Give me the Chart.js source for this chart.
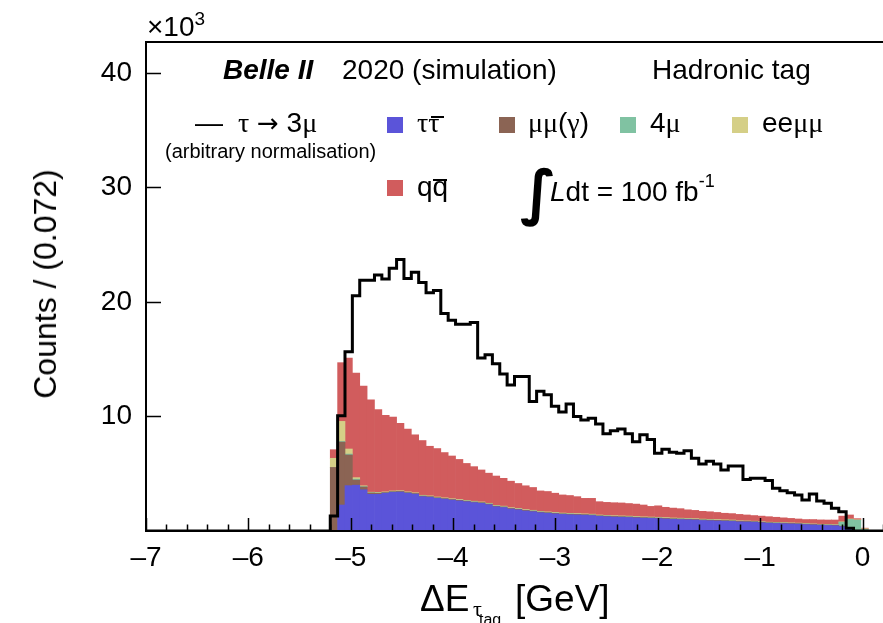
<!DOCTYPE html>
<html>
<head>
<meta charset="utf-8">
<script src="https://cdn.jsdelivr.net/npm/chart.js@4.4.1/dist/chart.umd.min.js"></script>
<style>
  html, body { margin: 0; padding: 0; background: #fff; overflow: hidden; }
  #wrap { position: relative; width: 883px; height: 623px; font-family: "Liberation Sans", Arial, Helvetica, sans-serif; color: #000; }
  #wrap canvas { position: absolute; left: 0; top: 0; }
  .t { position: absolute; white-space: nowrap; line-height: 1; font-size: 28px; }
  .g { font-family: "Liberation Serif", "DejaVu Serif", serif; }
  .bar { position: absolute; height: 2px; background: #000; }
  .sq { position: absolute; width: 16px; height: 16px; }
</style>
</head>
<body>
<div id="wrap">
  <canvas id="hist" width="883" height="623"></canvas>

  <div class="t" style="left:147px; top:13px;">×10<span style="font-size:19px; position:relative; top:-11px;">3</span></div>

  <div class="t" style="left:223px; top:56px; font-weight:bold; font-style:italic;">Belle II</div>
  <div class="t" style="left:342px; top:56px;">2020 (simulation)</div>
  <div class="t" style="left:652px; top:56px;">Hadronic tag</div>

  <div class="t" style="left:195px; top:109px;">—</div>
  <div class="t" style="left:238px; top:109px;"><span class="g">τ</span> <span style="font-family:'DejaVu Sans', sans-serif; font-size:26px;">→</span> 3<span class="g">μ</span></div>
  <div class="t" style="left:165px; top:141px; font-size:20px;">(arbitrary normalisation)</div>

  <div class="sq" style="left:387px; top:117px; background:#5b54d9;"></div>
  <div class="t g" style="left:417px; top:109px;">ττ</div>
  <div class="bar" style="left:431px; top:116px; width:13px;"></div>
  <div class="sq" style="left:499px; top:117px; background:#8b6454;"></div>
  <div class="t" style="left:528px; top:109px;"><span class="g">μμ</span>(<span class="g">γ</span>)</div>
  <div class="sq" style="left:620px; top:117px; background:#80c2a2;"></div>
  <div class="t" style="left:650px; top:109px;">4<span class="g">μ</span></div>
  <div class="sq" style="left:732px; top:117px; background:#d5cf87;"></div>
  <div class="t" style="left:762px; top:109px;">ee<span class="g">μμ</span></div>
  <div class="sq" style="left:387px; top:180px; background:#d15c5d;"></div>
  <div class="t" style="left:417px; top:173px;">qq</div>
  <div class="bar" style="left:433px; top:179px; width:14px;"></div>

  <div class="t" style="left:520px; top:162px; font-family:'DejaVu Sans', sans-serif; font-weight:bold; font-size:60px;">∫</div>
  <div class="t" style="left:550px; top:178px;"><i>L</i>dt = 100 fb<span style="font-size:18px; position:relative; top:-14px;">-1</span></div>

  <div class="t" style="left:420px; top:580px; font-size:37px;">ΔE</div>
  <div class="t g" style="left:473px; top:598px; font-size:22px;">τ</div>
  <div class="t" style="left:479px; top:612px; font-size:16px;">tag</div>
  <div class="t" style="left:515px; top:580px; font-size:37px;">[GeV]</div>

  <div class="t" style="left:45px; top:284px; font-size:32px; transform:translate(-50%,-50%) rotate(-90deg);">Counts / (0.072)</div>
</div>

<script>
// binning: 100 bins of 0.072 GeV from -7 to 0.2
const binLow = -7;
const binWidth = 0.072;
const binCount = 100;

// stacked backgrounds, counts in units of 10^3 per bin
const tautau = [
  0, 0, 0, 0, 0, 0, 0, 0, 0, 0, 0, 0, 0, 0, 0, 0, 0, 0, 0, 0, 0, 0, 0, 0, 0,
  0.05, 2.27, 3.96, 4.0, 3.6, 3.2, 3.2, 3.3, 3.38, 3.4, 3.3, 3.22, 3.0, 2.95, 2.85,
  2.78, 2.7, 2.63, 2.56, 2.48, 2.42, 2.3, 2.12, 2.05, 1.92, 1.85, 1.75, 1.69, 1.6, 1.55,
  1.5, 1.45, 1.42, 1.4, 1.38, 1.35, 1.28, 1.25, 1.22, 1.2, 1.18, 1.15, 1.12, 1.1, 1.08,
  1.05, 1.02, 1.0, 0.98, 0.96, 0.92, 0.9, 0.88, 0.86, 0.84, 0.8, 0.79, 0.77, 0.72, 0.68,
  0.66, 0.64, 0.62, 0.6, 0.56, 0.53, 0.5, 0.48, 0.46, 0.38, 0.2, 0.02, 0, 0, 0
];
const mumuGamma = [
  0, 0, 0, 0, 0, 0, 0, 0, 0, 0, 0, 0, 0, 0, 0, 0, 0, 0, 0, 0, 0, 0, 0, 0, 0,
  5.5, 5.5, 2.68, 0.45, 0.25, 0.12, 0.1, 0.05, 0.05, 0.05, 0.05, 0.05, 0.05, 0.05, 0.05,
  0.05, 0.05, 0.05, 0.05, 0.05, 0.05, 0.05, 0.05, 0.05, 0.05, 0.05, 0.05, 0.05, 0.05, 0.05,
  0.05, 0.05, 0.05, 0.05, 0.05, 0.05, 0.05, 0.05, 0.05, 0.05, 0.05, 0.05, 0.05, 0.05, 0.05,
  0.05, 0.05, 0.05, 0.05, 0.05, 0.05, 0.05, 0.05, 0.05, 0.05, 0.04, 0.04, 0.04, 0.04, 0.04,
  0.04, 0.04, 0.04, 0.04, 0.04, 0.04, 0.04, 0.04, 0.04, 0.04, 0.02, 0.03, 0.05, 0.03, 0
];
const fourMu = [
  0, 0, 0, 0, 0, 0, 0, 0, 0, 0, 0, 0, 0, 0, 0, 0, 0, 0, 0, 0, 0, 0, 0, 0, 0,
  0, 0.05, 0.08, 0.08, 0.03, 0.02, 0.02, 0.02, 0.02, 0.02, 0.02, 0.02, 0.02, 0.02, 0.02,
  0.02, 0.02, 0.02, 0.02, 0.02, 0.02, 0.02, 0.02, 0.02, 0.02, 0.02, 0.02, 0.02, 0.02, 0.02,
  0.02, 0.02, 0.02, 0.02, 0.02, 0.02, 0.02, 0.02, 0.02, 0.02, 0.02, 0.02, 0.02, 0.02, 0.02,
  0.02, 0.02, 0.02, 0.02, 0.02, 0.02, 0.02, 0.02, 0.02, 0.02, 0.02, 0.02, 0.02, 0.02, 0.02,
  0.02, 0.02, 0.02, 0.02, 0.02, 0.02, 0.02, 0.02, 0.02, 0.35, 0.8, 0.9, 0.1, 0, 0
];
const eeMumu = [
  0, 0, 0, 0, 0, 0, 0, 0, 0, 0, 0, 0, 0, 0, 0, 0, 0, 0, 0, 0, 0, 0, 0, 0, 0,
  0.8, 1.75, 0.44, 0.13, 0.07, 0.05, 0.05, 0.05, 0.05, 0.05, 0.05, 0.05, 0.05, 0.05, 0.05,
  0.05, 0.05, 0.05, 0.05, 0.05, 0.05, 0.05, 0.05, 0.05, 0.05, 0.05, 0.05, 0.05, 0.05, 0.05,
  0.05, 0.05, 0.05, 0.05, 0.05, 0.05, 0.05, 0.05, 0.05, 0.05, 0.05, 0.05, 0.05, 0.05, 0.05,
  0.05, 0.05, 0.05, 0.05, 0.05, 0.05, 0.05, 0.05, 0.05, 0.05, 0.03, 0.03, 0.03, 0.03, 0.03,
  0.03, 0.03, 0.03, 0.03, 0.03, 0.03, 0.03, 0.03, 0.03, 0.03, 0.03, 0.03, 0.05, 0.02, 0
];
const qqbar = [
  0, 0, 0, 0, 0, 0, 0, 0, 0, 0, 0, 0, 0, 0, 0, 0, 0, 0, 0, 0, 0, 0, 0, 0, 0,
  0.75, 5.13, 7.94, 9.14, 8.7, 8.06, 7.23, 6.68, 6.45, 5.88, 5.48, 5.06, 4.78, 4.33, 4.23,
  3.95, 3.73, 3.5, 3.22, 3.02, 2.79, 2.63, 2.56, 2.43, 2.31, 2.18, 2.08, 1.99, 1.78, 1.78,
  1.68, 1.58, 1.56, 1.48, 1.35, 1.38, 1.16, 1.13, 1.13, 1.13, 1.1, 1.08, 1.03, 0.93, 1.0,
  0.9, 0.86, 0.83, 0.75, 0.72, 0.68, 0.66, 0.62, 0.57, 0.56, 0.56, 0.52, 0.49, 0.49, 0.48,
  0.45, 0.42, 0.39, 0.36, 0.35, 0.38, 0.38, 0.39, 0.41, 0.5, 0.35, 0.1, 0.05, 0, 0
];

// tau -> 3mu signal, arbitrary normalisation
const tau3mu = [
  0, 0, 0, 0, 0, 0, 0, 0, 0, 0, 0, 0, 0, 0, 0, 0, 0, 0, 0, 0, 0, 0, 0, 0, 0,
  1.3, 10.07, 15.66, 20.55, 21.9, 21.9, 22.35, 22.0, 22.95, 23.7, 22.05, 22.6, 21.7, 20.8, 21.0,
  19.0, 18.4, 18.05, 18.05, 18.2, 15.1, 15.4, 14.6, 13.7, 12.75, 13.5, 13.5, 11.3, 12.2, 11.9,
  10.9, 10.4, 11.1, 10.0, 9.7, 9.84, 9.35, 8.5, 8.76, 8.9, 8.5, 7.8, 8.4, 8.0, 6.8,
  7.13, 6.87, 6.8, 7.0, 6.35, 5.85, 6.1, 5.85, 5.33, 5.68, 5.68, 4.5, 4.6, 4.6, 4.4,
  3.73, 3.52, 3.35, 3.14, 2.7, 3.23, 2.62, 2.42, 1.98, 1.69, 0.23, 0, 0, 0, 0
];

const xTicks = [-7, -6, -5, -4, -3, -2, -1, 0];
const yTicks = [10, 20, 30, 40];

const fontMain = "'Liberation Sans', Arial, Helvetica, sans-serif";

function binCenters(values) {
    return values.map((v, i) => ({ x: binLow + binWidth * (i + 0.5), y: v }));
}

function binEdgesStep(values) {
    const pts = values.map((v, i) => ({ x: binLow + binWidth * i, y: v }));
    pts.push({ x: binLow + binWidth * binCount, y: values[values.length - 1] });
    return pts;
}

// frame with inward ticks like the ROOT style
const frameTicks = {
    id: 'frameTicks',
    afterDatasetsDraw(chart) {
        const { ctx, chartArea: a, scales: { x, y } } = chart;
        ctx.save();
        ctx.strokeStyle = '#000';
        ctx.lineWidth = 2;
        ctx.beginPath();
        ctx.moveTo(a.right + 5, a.top);
        ctx.lineTo(a.left, a.top);
        ctx.lineTo(a.left, a.bottom);
        ctx.lineTo(a.right + 5, a.bottom);
        ctx.stroke();

        ctx.lineWidth = 1.5;
        ctx.beginPath();
        for (let k = 0; k <= 36; k++) {
            const v = binLow + k * 0.2;
            const px = Math.round(x.getPixelForValue(v)) + 0.5;
            const len = k % 5 === 0 ? 13 : 6.5;
            ctx.moveTo(px, a.bottom);
            ctx.lineTo(px, a.bottom - len);
        }
        yTicks.forEach(v => {
            const py = Math.round(y.getPixelForValue(v)) + 0.5;
            ctx.moveTo(a.left, py);
            ctx.lineTo(a.left + 15, py);
        });
        ctx.stroke();
        ctx.restore();
    }
};

const barStyle = {
    type: 'bar',
    stack: 'bkg',
    order: 1,
    borderWidth: 0,
    barPercentage: 1,
    categoryPercentage: 1
};

new Chart(document.getElementById('hist').getContext('2d'), {
    type: 'bar',
    data: {
        datasets: [
            {
                type: 'line',
                label: 'tau -> 3mu',
                data: binEdgesStep(tau3mu),
                borderColor: '#000',
                borderWidth: 3,
                pointRadius: 0,
                stepped: true,
                fill: false,
                order: 0
            },
            { ...barStyle, label: 'tautau', data: binCenters(tautau), backgroundColor: '#5b54d9' },
            { ...barStyle, label: 'mumu(gamma)', data: binCenters(mumuGamma), backgroundColor: '#8b6454' },
            { ...barStyle, label: '4mu', data: binCenters(fourMu), backgroundColor: '#80c2a2' },
            { ...barStyle, label: 'eemumu', data: binCenters(eeMumu), backgroundColor: '#d5cf87' },
            { ...barStyle, label: 'qqbar', data: binCenters(qqbar), backgroundColor: '#d15c5d' }
        ]
    },
    options: {
        responsive: false,
        animation: false,
        devicePixelRatio: 1,
        layout: { padding: { top: 42, right: 0, bottom: 0, left: 0 } },
        plugins: {
            legend: { display: false },
            tooltip: { enabled: false }
        },
        scales: {
            x: {
                type: 'linear',
                min: -7,
                max: 0.2,
                offset: false,
                grid: { display: false, drawTicks: false, offset: false },
                border: { display: false },
                afterBuildTicks: s => { s.ticks = xTicks.map(v => ({ value: v })); },
                afterFit: s => { s.height = 92; },
                ticks: {
                    color: '#000',
                    padding: 10,
                    maxRotation: 0,
                    autoSkip: false,
                    font: { family: fontMain, size: 28 },
                    callback: v => (v < 0 ? '\u2013' + Math.abs(v) : String(v))
                }
            },
            y: {
                min: 0,
                max: 42.7,
                grid: { display: false, drawTicks: false },
                border: { display: false },
                afterBuildTicks: s => { s.ticks = yTicks.map(v => ({ value: v })); },
                afterFit: s => { s.width = 146; },
                ticks: {
                    color: '#000',
                    padding: 14,
                    font: { family: fontMain, size: 28 }
                }
            }
        }
    },
    plugins: [frameTicks]
});
</script>
</body>
</html>
